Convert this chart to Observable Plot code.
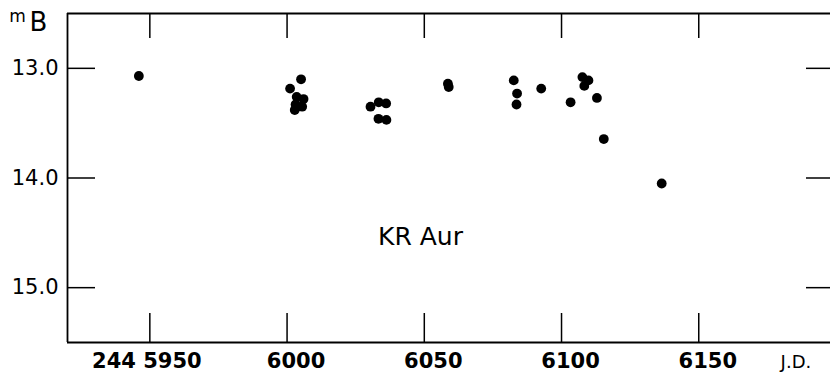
<!DOCTYPE html>
<html>
<head>
<meta charset="utf-8">
<script src="https://cdn.jsdelivr.net/npm/d3@7"></script>
<script src="https://cdn.jsdelivr.net/npm/@observablehq/plot@0.6"></script>
<style>
  html, body { margin: 0; padding: 0; background: #fff; overflow: hidden; }
  #chart svg { display: block; }
</style>
</head>
<body>
<div id="chart"></div>
<script>
// Julian Date (244 xxxx) and B magnitude of KR Aur
const jd  = [5946.0, 6001.1, 6005.1, 6003.5, 6006.0, 6003.1, 6005.5, 6002.8,
             6030.4, 6033.4, 6036.1, 6033.3, 6036.2, 6058.6, 6058.9,
             6082.6, 6083.8, 6083.6, 6092.6, 6103.3, 6107.6, 6109.8, 6108.3,
             6112.9, 6115.4, 6136.5];
const mag = [13.07, 13.185, 13.10, 13.26, 13.28, 13.33, 13.35, 13.38,
             13.35, 13.31, 13.32, 13.46, 13.47, 13.14, 13.17,
             13.11, 13.23, 13.33, 13.185, 13.31, 13.08, 13.11, 13.16,
             13.27, 13.645, 14.05];

const xDomain = [5920, 6198];
const yDomain = [12.5, 15.5];   // brighter (smaller) magnitudes at the top
const xTicks = [5950, 6000, 6050, 6100, 6150];
const xTickLabels = ["244 5950", "6000", "6050", "6100", "6150"];
const yTicks = [13.0, 14.0, 15.0];
const yTickLabels = ["13.0", "14.0", "15.0"];
const starName = "KR Aur";
const starPos = {x: 6048.6, y: 14.54};
const xAxisName = "J.D.";
const xAxisNamePos = 6185.4;

const points = jd.map((d, i) => ({jd: d, mag: mag[i]}));

const W = 830, H = 381;
const mL = 67, mR = 0, mT = 13, mB = 39;
const fw = W - mL - mR, fh = H - mT - mB;

const chart = Plot.plot({
  width: W,
  height: H,
  marginLeft: mL,
  marginRight: mR,
  marginTop: mT,
  marginBottom: mB,
  style: {background: "#fff", color: "#000", fontFamily: "DejaVu Sans, sans-serif", overflow: "visible"},
  x: {domain: xDomain, axis: null},
  y: {domain: yDomain, reverse: true, axis: null},
  marks: [
    // frame: left, top, bottom
    Plot.ruleX([xDomain[0]], {stroke: "#000", strokeWidth: 1.8}),
    Plot.ruleY([yDomain[0]], {stroke: "#000", strokeWidth: 1.8}),
    Plot.ruleY([yDomain[1]], {stroke: "#000", strokeWidth: 1.8}),
    // inward ticks
    Plot.tickY(yTicks, {y: d => d, insetRight: fw - 28, stroke: "#000", strokeWidth: 1.5}),
    Plot.tickY(yTicks, {y: d => d, insetLeft: fw - 24, stroke: "#000", strokeWidth: 1.5}),
    Plot.tickX(xTicks, {x: d => d, insetBottom: fh - 25, stroke: "#000", strokeWidth: 1.5}),
    Plot.tickX(xTicks, {x: d => d, insetTop: fh - 29, stroke: "#000", strokeWidth: 1.5}),
    // y tick labels
    Plot.text(yTicks, {y: d => d, text: (d, i) => yTickLabels[i], frameAnchor: "left", textAnchor: "end",
      lineAnchor: "middle", dx: -9, fontSize: 21, fill: "#000"}),
    // x tick labels
    Plot.text(xTicks.slice(0, 1), {x: d => d, text: (d, i) => xTickLabels[i], frameAnchor: "bottom",
      lineAnchor: "middle", textAnchor: "middle", dx: -3, dy: 19, fontSize: 21, fontWeight: "bold", fill: "#000"}),
    Plot.text(xTicks.slice(1), {x: d => d, text: (d, i) => xTickLabels[i + 1], frameAnchor: "bottom",
      lineAnchor: "middle", textAnchor: "middle", dx: 9, dy: 19, fontSize: 21, fontWeight: "bold", fill: "#000"}),
    // axis names
    Plot.text([xAxisName], {x: () => xAxisNamePos, text: d => d, frameAnchor: "bottom", lineAnchor: "middle",
      dy: 20, fontSize: 18, letterSpacing: 3, fill: "#000"}),
    Plot.text(["m"], {text: d => d, frameAnchor: "top-left", textAnchor: "middle", lineAnchor: "middle",
      dx: -50, dy: 3, fontSize: 17, fill: "#000"}),
    Plot.text(["B"], {text: d => d, frameAnchor: "top-left", textAnchor: "middle", lineAnchor: "middle",
      dx: -29, dy: 9, fontSize: 26, fill: "#000"}),
    // star name
    Plot.text([starName], {x: () => starPos.x, y: () => starPos.y, text: d => d, fontSize: 25,
      letterSpacing: 3, fill: "#000"}),
    // observations
    Plot.dot(points, {x: "jd", y: "mag", r: 4.9, fill: "#000", stroke: "none"})
  ]
});
document.getElementById("chart").appendChild(chart);
</script>
</body>
</html>
